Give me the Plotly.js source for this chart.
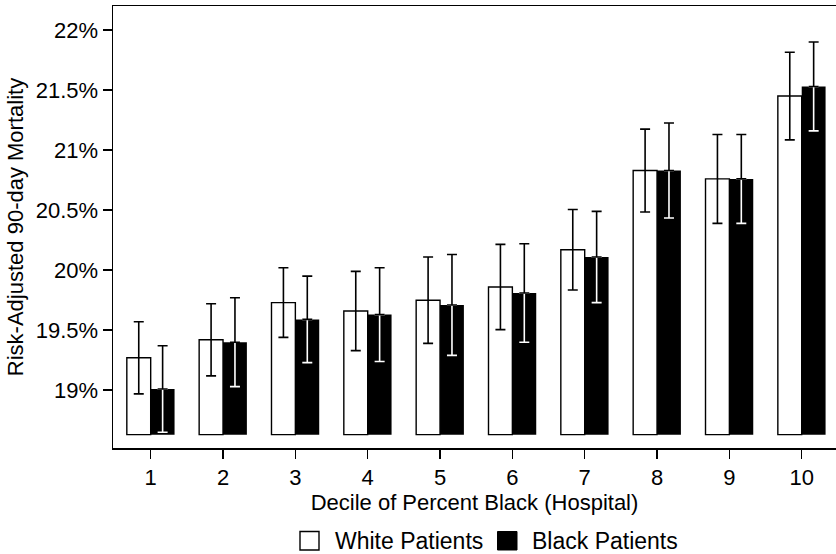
<!DOCTYPE html>
<html>
<head>
<meta charset="utf-8">
<script src="https://cdn.plot.ly/plotly-3.0.1.min.js"></script>
<style>html,body{margin:0;padding:0;background:#fff;}#chart{width:836px;height:554px;}</style>
</head>
<body>
<div id="chart"></div>
<script>
// Data
const deciles = [1, 2, 3, 4, 5, 6, 7, 8, 9, 10];
const whiteMortality = [19.27, 19.42, 19.73, 19.66, 19.75, 19.86, 20.17, 20.83, 20.76, 21.45];
const whiteCI = [0.30, 0.30, 0.29, 0.33, 0.36, 0.355, 0.335, 0.345, 0.37, 0.365];
const blackMortality = [19.01, 19.40, 19.59, 19.63, 19.71, 19.81, 20.11, 20.83, 20.76, 21.53];
const blackCI = [0.36, 0.37, 0.36, 0.39, 0.42, 0.41, 0.38, 0.395, 0.37, 0.37];
const yTickVals = [19, 19.5, 20, 20.5, 21, 21.5, 22];
const yTickText = ['19%', '19.5%', '20%', '20.5%', '21%', '21.5%', '22%'];
const seriesNames = ['White Patients', 'Black Patients'];

const BASE = 18.63;
const BW = 0.33;
const FONT = 'Liberation Sans, Arial, sans-serif';
const zeros = deciles.map(() => 0);

const traces = [
  {
    type: 'bar', name: seriesNames[0], x: deciles,
    y: whiteMortality.map(v => v - BASE), base: BASE,
    width: BW, offset: -BW,
    marker: {color: '#ffffff', line: {color: '#000000', width: 1.4}},
    error_y: {type: 'data', array: whiteCI, visible: true, color: '#000000', thickness: 1.6, width: 5},
    hoverinfo: 'skip'
  },
  {
    type: 'bar', name: seriesNames[1], x: deciles,
    y: blackMortality.map(v => v - BASE), base: BASE,
    width: BW, offset: 0,
    marker: {color: '#000000', line: {color: '#000000', width: 0}},
    error_y: {type: 'data', symmetric: false, array: zeros, arrayminus: blackCI, visible: true, color: '#ffffff', thickness: 1.6, width: 5},
    hoverinfo: 'skip'
  },
  {
    type: 'bar', name: seriesNames[1] + ' upper', x: deciles,
    y: blackMortality.map(v => v - BASE), base: BASE,
    width: BW, offset: 0, showlegend: false,
    marker: {color: 'rgba(0,0,0,0)', line: {width: 0}},
    error_y: {type: 'data', symmetric: false, array: blackCI, arrayminus: zeros, visible: true, color: '#000000', thickness: 1.6, width: 5},
    hoverinfo: 'skip'
  }
];

// paper-coordinate helpers for the custom legend (plot area: x 113..836, y 6..448)
const PL = 113, PW = 723, PT = 6, PH = 442;
const px = v => (v - PL) / PW;
const py = v => (PT + PH - v) / PH;

const layout = {
  width: 836, height: 554,
  margin: {l: PL, r: 0, t: PT, b: 554 - PT - PH, pad: 0},
  paper_bgcolor: '#ffffff', plot_bgcolor: '#ffffff',
  font: {family: FONT, size: 22, color: '#000000'},
  barmode: 'overlay',
  showlegend: false,
  xaxis: {
    range: [0.479, 10.474], tickvals: deciles, ticktext: deciles.map(String),
    showline: true, mirror: true, linecolor: '#000000', linewidth: 1.5,
    ticks: 'outside', ticklen: 9, tickwidth: 1.5, tickcolor: '#000000',
    showgrid: false, zeroline: false,
    tickfont: {family: FONT, size: 22, color: '#000000'},
    title: {text: 'Decile of Percent Black (Hospital)', font: {family: FONT, size: 22, color: '#000000'}, standoff: 3}
  },
  yaxis: {
    range: [18.519, 22.2], tickvals: yTickVals, ticktext: yTickText,
    showline: true, linecolor: '#000000', linewidth: 1.5,
    ticks: 'outside', ticklen: 9, tickwidth: 1.5, tickcolor: '#000000',
    showgrid: false, zeroline: false,
    tickfont: {family: FONT, size: 22, color: '#000000'},
    title: {text: 'Risk-Adjusted 90-day Mortality', font: {family: FONT, size: 22, color: '#000000'}, standoff: 6}
  },
  shapes: [
    {type: 'rect', xref: 'paper', yref: 'paper', x0: px(300), x1: px(319), y0: py(550), y1: py(531.5),
     fillcolor: '#ffffff', line: {color: '#000000', width: 1.4}},
    {type: 'rect', xref: 'paper', yref: 'paper', x0: px(497.5), x1: px(517), y0: py(550), y1: py(531.5),
     fillcolor: '#000000', line: {color: '#000000', width: 1}}
  ],
  annotations: [
    {xref: 'paper', yref: 'paper', x: px(333), y: py(541), xanchor: 'left', yanchor: 'middle',
     text: seriesNames[0], showarrow: false, font: {family: FONT, size: 23, color: '#000000'}},
    {xref: 'paper', yref: 'paper', x: px(530), y: py(541), xanchor: 'left', yanchor: 'middle',
     text: seriesNames[1], showarrow: false, font: {family: FONT, size: 23, color: '#000000'}}
  ]
};

Plotly.newPlot('chart', traces, layout, {staticPlot: true, displayModeBar: false});
</script>
</body>
</html>
